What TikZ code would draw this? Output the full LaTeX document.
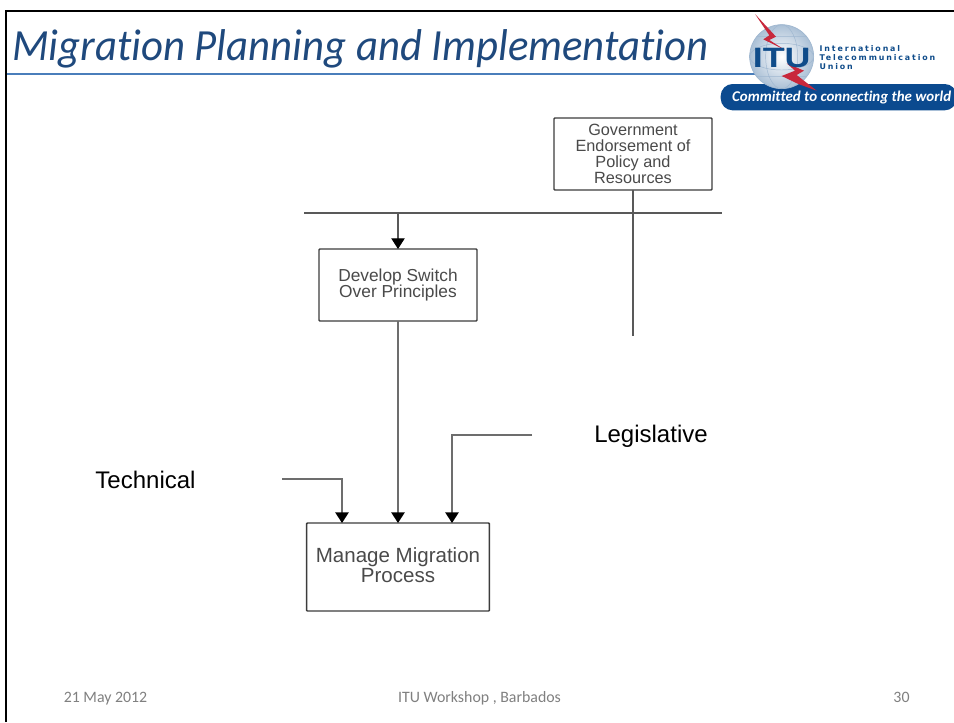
\documentclass[tikz,border=0pt]{standalone}
\usepackage{fontspec}
\setmainfont{Carlito}[Ligatures=NoCommon]
\newfontfamily\arialfont{Liberation Sans}
\newfontfamily\logofont{DejaVu Sans}[LetterSpace=24]
\usepackage{xcolor}
\usetikzlibrary{arrows.meta, positioning}
\definecolor{titleblue}{HTML}{1F497D}
\definecolor{ruleblue}{HTML}{4A7EBB}
\definecolor{itublue}{HTML}{0F4C8A}
\definecolor{ituband}{HTML}{0B4A8F}
\definecolor{itured}{HTML}{C8283C}
\definecolor{boxline}{HTML}{3C3C3C}
\definecolor{boxtext}{HTML}{4A4A4A}
\definecolor{footgray}{HTML}{808080}
\tikzset{
    stagebox/.style={rectangle, draw=boxline, line width=1.1pt, rounded corners=0.6pt, align=center, inner sep=0pt, outer sep=0pt, text=boxtext, font=\arialfont},
    link/.style={draw=boxline!85, line width=0.9pt},
    feed/.style={draw=boxline!75, line width=1.3pt},
    arrow/.style={-{Triangle[length=8pt, width=10pt, color=black]}},
    sidelabel/.style={font=\arialfont\fontsize{18}{20}\selectfont, text=black, inner sep=0pt},
    footer/.style={anchor=base, font=\fontsize{11.9}{14}\selectfont, text=footgray, inner sep=0pt}
}
\begin{document}
\begin{tikzpicture}[x=0.75pt, y=-0.75pt]
            \useasboundingbox (0,0) rectangle (954,722);
            \fill[white] (0,0) rectangle (954,722);

            \draw[black, line width=1.6pt] (6,722) -- (6,11) -- (954,11);
            \draw[ruleblue, line width=0.8pt] (7,74) -- (760,74);
            \node (title) [anchor=base west, inner sep=0pt, text=titleblue, xscale=0.96, transform shape, font=\itshape\fontsize{33.4}{36}\selectfont] at (12,60) {Migration Planning and Implementation};

            \begin{scope}[shift={(700,0)}, x=0.25pt, y=-0.25pt]
                \fill[ituband, rounded corners=9pt] (62,252) -- (770,252) -- (770,331) -- (62,331) -- cycle;
                \shade[inner color=white, outer color=itublue!35, draw=itublue!40, line width=0.5pt] (245,170) circle (96);
                \begin{scope}
                    \clip (245,170) circle (96);
                    \draw[itublue!40, line width=0.35pt] (245,170) ellipse (48 and 96) (245,170) ellipse (96 and 40) (150,110) -- (340,110) (150,230) -- (340,230);
                \end{scope}
                \fill[itured] (165,42) -- (228,110) -- (208,120) -- (255,150) -- (190,118) -- (208,106) -- cycle;
                \fill[itured] (350,272) -- (290,225) -- (312,212) -- (260,190) -- (285,212) -- (245,228) -- (295,252) -- cycle;
                \node (itu) [inner sep=0pt, text=itublue, xscale=1.28, transform shape, font=\arialfont\bfseries\fontsize{21}{21}\selectfont] at (245,175) {ITU};
                \node (itutext) [anchor=north west, inner sep=0pt, align=left, text=itublue, font=\logofont\bfseries\fontsize{5.9}{7}\selectfont] at (358,135) {International\\Telecommunication\\Union};
                \node (motto) [inner sep=0pt, text=white, font=\bfseries\itshape\fontsize{11.2}{13}\selectfont] at (425,292) {Committed to connecting the world};
            \end{scope}

            \node (gov) [stagebox, minimum width=118.5pt, minimum height=54pt, font=\arialfont\fontsize{12.2}{12}\selectfont] at (633,154) {Government\\Endorsement of\\Policy and\\Resources};
            \node (develop) [stagebox, minimum width=118.5pt, minimum height=54pt, font=\arialfont\fontsize{13}{12.5}\selectfont] at (398,285) {Develop Switch\\Over Principles};
            \node (manage) [stagebox, minimum width=137pt, minimum height=66pt, below=151.5pt of develop, font=\arialfont\fontsize{15.4}{15}\selectfont] {Manage Migration\\Process\\[-12pt]};
            \node (technical) [sidelabel] at (145.5,480) {Technical};
            \node (legislative) [sidelabel] at (651,436) {Legislative};

            \coordinate (busleft) at (304,213);
            \coordinate (busright) at (722,213);
            \coordinate (bustap) at (398,213);
            \coordinate (govend) at (633,336);
            \coordinate (techstart) at (282,479);
            \coordinate (techin) at (342,523);
            \coordinate (legstart) at (532,435);
            \coordinate (legin) at (452,523);

            \draw[link] (busleft) -- (busright);
            \draw[link] (gov.south) -- (govend);
            \draw[link, arrow] (bustap) -- (develop.north);
            \draw[feed, arrow] (develop.south) -- (manage.north);
            \draw[feed, arrow] (techstart) -| (techin);
            \draw[feed, arrow] (legstart) -| (legin);

            \node (date) [footer] at (105.5,702) {21 May 2012};
            \node (workshop) [footer] at (479.5,702) {ITU Workshop , Barbados};
            \node (page) [footer] at (901.5,702) {30};
        \end{tikzpicture}
\end{document}
